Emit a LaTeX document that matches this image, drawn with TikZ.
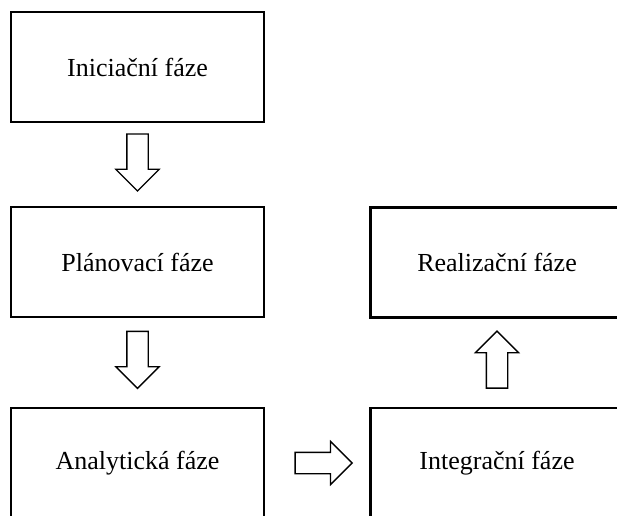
\documentclass[tikz,border=0pt]{standalone}
\usepackage{fontspec}
\setmainfont{Liberation Serif}
\usetikzlibrary{shapes.arrows}

\tikzset{
  phase/.style={draw, line width=2.8pt, minimum width=253pt, minimum height=110pt,
    font=\fontsize{26}{30}\selectfont},
  blockarrow/.style={draw, single arrow, line width=1.3pt, inner xsep=0pt, inner ysep=10pt,
    minimum height=57pt, minimum width=42pt, single arrow head extend=11pt}
}

\begin{document}
\begin{tikzpicture}[x=1pt, y=-1pt]
  \useasboundingbox (0,0) rectangle (617,515);
  \foreach \name/\x/\y/\txt in {init/137.5/67/Iniciační fáze,
                                plan/137.5/262/Plánovací fáze,
                                ana/137.5/463/Analytická fáze,
                                integ/497/463/Integrační fáze,
                                real/497/262.5/Realizační fáze}
  {
    \node[phase] (\name) at (\x,\y) {\txt};
  }
  %% arrows between the phases
  \path (init) -- node[blockarrow, rotate=-90, pos=.41] (arr-1) {} (plan);
  \path (plan) -- node[blockarrow, rotate=-90, pos=.41] (arr-2) {} (ana);
  \path (ana) -- node[blockarrow, pos=.51] (arr-3) {} (integ);
  \path (integ) -- node[blockarrow, rotate=90, pos=.475] (arr-4) {} (real);
\end{tikzpicture}
\end{document}
